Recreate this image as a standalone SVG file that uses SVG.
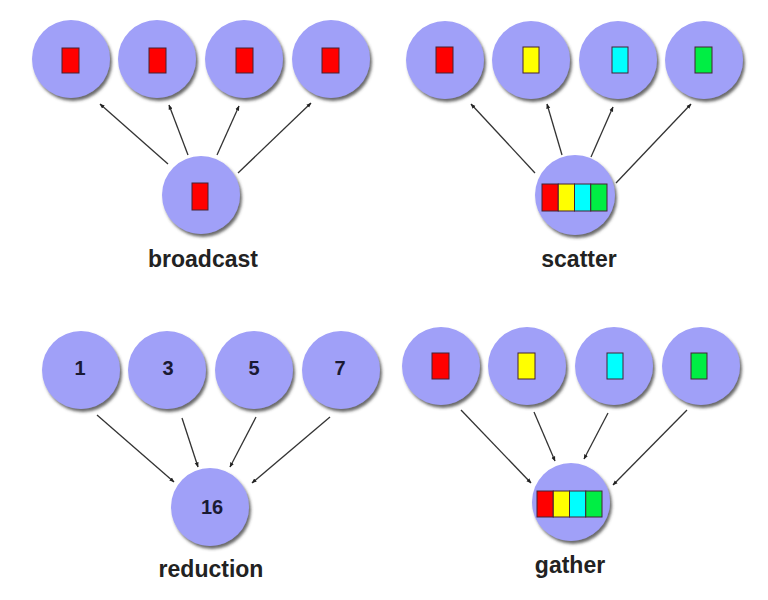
<svg xmlns="http://www.w3.org/2000/svg" width="768" height="600" viewBox="0 0 768 600">
<defs>
<filter id="sh" x="-20%" y="-20%" width="150%" height="150%">
<feDropShadow dx="2" dy="3" stdDeviation="1.6" flood-color="#444" flood-opacity="0.8"/>
</filter>
<marker id="ah" viewBox="0 0 10 10" refX="9" refY="5" markerWidth="5" markerHeight="5" orient="auto" markerUnits="userSpaceOnUse">
<path d="M0,1 L10,5 L0,9 z" fill="#222"/>
</marker>
<style>
.n{fill:#a0a0f8;filter:url(#sh)}
.c line{stroke:#333;stroke-width:1.3;marker-end:url(#ah)}
.r{stroke:#442233;stroke-width:1}
.red{fill:#ff0000}.yel{fill:#ffff00}.cya{fill:#00ffff}.grn{fill:#00ee44}
.lbl{font-family:"Liberation Sans",Arial,sans-serif;font-weight:bold;font-size:23px;fill:#222;text-anchor:middle}
.num{font-family:"Liberation Sans",Arial,sans-serif;font-weight:bold;font-size:20px;fill:#1a1a33;text-anchor:middle}
</style>
</defs>
<rect width="768" height="600" fill="#ffffff"/>

<g class="c" id="connectors">
<line x1="168" y1="164" x2="100" y2="104"/>
<line x1="188" y1="155" x2="169" y2="105"/>
<line x1="217" y1="155" x2="239" y2="106"/>
<line x1="238" y1="173" x2="311" y2="103"/>

<line x1="535" y1="173" x2="471" y2="104"/>
<line x1="562" y1="155" x2="547" y2="104"/>
<line x1="591" y1="157" x2="613" y2="107"/>
<line x1="616" y1="183" x2="691" y2="104"/>

<line x1="97" y1="415" x2="174" y2="482"/>
<line x1="182" y1="418" x2="198" y2="467"/>
<line x1="256" y1="417" x2="230" y2="467"/>
<line x1="330" y1="417" x2="252" y2="483"/>

<line x1="461" y1="410" x2="531" y2="483"/>
<line x1="534" y1="412" x2="555" y2="461"/>
<line x1="608" y1="413" x2="584" y2="459"/>
<line x1="687" y1="410" x2="613" y2="485"/>
</g>

<!-- broadcast -->
<g id="bc-1"><circle class="n" cx="71" cy="59" r="39"/><rect class="r red" x="62" y="48" width="17" height="25"/></g>
<g id="bc-2"><circle class="n" cx="157" cy="59" r="39"/><rect class="r red" x="149" y="48" width="17" height="25"/></g>
<g id="bc-3"><circle class="n" cx="244" cy="59" r="39"/><rect class="r red" x="236" y="48" width="17" height="25"/></g>
<g id="bc-4"><circle class="n" cx="331" cy="59" r="39"/><rect class="r red" x="322" y="48" width="17" height="25"/></g>
<g id="bc-root"><circle class="n" cx="201" cy="195" r="39"/><rect class="r red" x="192" y="183" width="16" height="27"/></g>
<text class="lbl" x="203" y="267">broadcast</text>

<!-- scatter -->
<g id="sc-1"><circle class="n" cx="445" cy="60" r="39"/><rect class="r red" x="436" y="47" width="17" height="26"/></g>
<g id="sc-2"><circle class="n" cx="531" cy="60" r="39"/><rect class="r yel" x="523" y="47" width="16" height="26"/></g>
<g id="sc-3"><circle class="n" cx="618" cy="60" r="39"/><rect class="r cya" x="612" y="47" width="16" height="26"/></g>
<g id="sc-4"><circle class="n" cx="704" cy="60" r="39"/><rect class="r grn" x="695" y="47" width="17" height="26"/></g>
<g id="sc-root"><circle class="n" cx="575" cy="195" r="40"/>
<rect class="r red" x="542" y="184" width="16.25" height="27"/>
<rect class="r yel" x="558.25" y="184" width="16.25" height="27"/>
<rect class="r cya" x="574.5" y="184" width="16.25" height="27"/>
<rect class="r grn" x="590.75" y="184" width="16.25" height="27"/>
</g>
<text class="lbl" x="579" y="267">scatter</text>

<!-- reduction -->
<g id="rd-1"><circle class="n" cx="81" cy="370" r="39"/><text class="num" x="80" y="375">1</text></g>
<g id="rd-2"><circle class="n" cx="167" cy="370" r="39"/><text class="num" x="168" y="375">3</text></g>
<g id="rd-3"><circle class="n" cx="254" cy="370" r="39"/><text class="num" x="254" y="375">5</text></g>
<g id="rd-4"><circle class="n" cx="341" cy="370" r="39"/><text class="num" x="340" y="375">7</text></g>
<g id="rd-root"><circle class="n" cx="210" cy="507" r="39"/><text class="num" x="212" y="514">16</text></g>
<text class="lbl" x="211" y="577">reduction</text>

<!-- gather -->
<g id="ga-1"><circle class="n" cx="441" cy="366" r="39"/><rect class="r red" x="432" y="353" width="17" height="26"/></g>
<g id="ga-2"><circle class="n" cx="527" cy="366" r="39"/><rect class="r yel" x="518" y="353" width="17" height="26"/></g>
<g id="ga-3"><circle class="n" cx="614" cy="366" r="39"/><rect class="r cya" x="607" y="353" width="16" height="26"/></g>
<g id="ga-4"><circle class="n" cx="701" cy="366" r="39"/><rect class="r grn" x="691" y="353" width="16" height="26"/></g>
<g id="ga-root"><circle class="n" cx="571" cy="502" r="39"/>
<rect class="r red" x="537" y="491" width="16.25" height="26"/>
<rect class="r yel" x="553.25" y="491" width="16.25" height="26"/>
<rect class="r cya" x="569.5" y="491" width="16.25" height="26"/>
<rect class="r grn" x="585.75" y="491" width="16.25" height="26"/>
</g>
<text class="lbl" x="570" y="573">gather</text>
</svg>
